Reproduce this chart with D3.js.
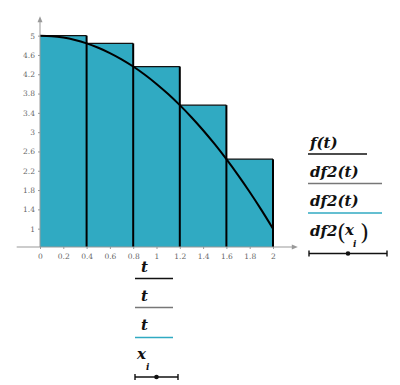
<!DOCTYPE html>
<html>
<head>
<meta charset="utf-8">
<script src="https://cdn.jsdelivr.net/npm/d3@7"></script>
<style>
  body { margin: 0; background: #fff; }
  svg { display: block; }
  .tick text { font-family: "DejaVu Serif", serif; font-size: 7.5px; fill: #666; }
  .leg { font-family: "DejaVu Serif", serif; font-style: italic; font-weight: bold; font-size: 15px; fill: #111; }
</style>
</head>
<body>
<svg id="chart" width="400" height="385"></svg>
<script>
// curve f(t)
const curveT = [0, 0.1, 0.2, 0.3, 0.4, 0.5, 0.6, 0.7, 0.8, 0.9, 1, 1.1, 1.2, 1.3, 1.4, 1.5, 1.6, 1.7, 1.8, 1.9, 2];
const curveF = [5, 4.99, 4.96, 4.91, 4.84, 4.75, 4.64, 4.51, 4.36, 4.19, 4, 3.79, 3.56, 3.31, 3.04, 2.75, 2.44, 2.11, 1.76, 1.39, 1];

// bars (left points x_i and heights)
const barX = [0, 0.4, 0.8, 1.2, 1.6];
const barH = [5, 4.84, 4.36, 3.56, 2.44];
const barW = 0.4;

const xTicks = [0, 0.2, 0.4, 0.6, 0.8, 1, 1.2, 1.4, 1.6, 1.8, 2];
const yTicks = [1, 1.4, 1.8, 2.2, 2.6, 3, 3.4, 3.8, 4.2, 4.6, 5];

const teal = "#30aac2";
const svg = d3.select("#chart");

const x = d3.scaleLinear().domain([0, 2]).range([40, 273]);
const y = d3.scaleLinear().domain([0.62, 5.37]).range([247, 17.8]);
const y0 = 0.62;

// bars
svg.append("g").selectAll("rect")
    .data(barX)
    .enter()
    .append("rect")
    .attr("x", d => x(d))
    .attr("y", (d, i) => y(barH[i]))
    .attr("width", d => x(d + barW) - x(d))
    .attr("height", (d, i) => y(y0) - y(barH[i]))
    .style("fill", teal);

// top edges
svg.append("g").selectAll("line")
    .data(barX)
    .enter()
    .append("line")
    .attr("x1", d => x(d))
    .attr("x2", d => x(d + barW))
    .attr("y1", (d, i) => y(barH[i]))
    .attr("y2", (d, i) => y(barH[i]))
    .style("stroke", "#111")
    .style("stroke-width", 1.2);

// vertical separators
svg.append("g").selectAll("line")
    .data(barX)
    .enter()
    .append("line")
    .attr("x1", d => x(d + barW))
    .attr("x2", d => x(d + barW))
    .attr("y1", y(y0))
    .attr("y2", (d, i) => y(barH[i]))
    .style("stroke", "#000")
    .style("stroke-width", 2);

// curve
const line = d3.line()
    .x((d, i) => x(curveT[i]))
    .y(d => y(d))
    .curve(d3.curveMonotoneX);
svg.append("path")
    .datum(curveF)
    .attr("d", line)
    .style("fill", "none")
    .style("stroke", "#000")
    .style("stroke-width", 2);

// axes
const axisColor = "#999";
svg.append("line")
    .attr("x1", x(-0.2)).attr("x2", x(2.17))
    .attr("y1", y(y0)).attr("y2", y(y0))
    .style("stroke", axisColor).style("stroke-width", 1);
svg.append("path")
    .attr("d", `M${x(2.17) + 5},${y(y0)} l-6,-2.5 l0,5 z`)
    .style("fill", axisColor);
svg.append("line")
    .attr("x1", x(0)).attr("x2", x(0))
    .attr("y1", y(y0)).attr("y2", y(5.3))
    .style("stroke", axisColor).style("stroke-width", 1);
svg.append("path")
    .attr("d", `M${x(0)},${y(5.3) - 5} l-2.5,6 l5,0 z`)
    .style("fill", axisColor);

const xAxis = svg.append("g")
    .attr("transform", `translate(0,${y(y0)})`)
    .call(d3.axisBottom(x).tickValues(xTicks).tickSize(2).tickPadding(5).tickFormat(d3.format("")));
xAxis.select(".domain").remove();
xAxis.selectAll(".tick line").style("stroke", axisColor);

const yAxis = svg.append("g")
    .attr("transform", `translate(${x(0)},0)`)
    .call(d3.axisLeft(y).tickValues(yTicks).tickSize(2).tickPadding(3).tickFormat(d3.format("")));
yAxis.select(".domain").remove();
yAxis.selectAll(".tick line").style("stroke", axisColor);

// legends
function label(g, lx, ly, s, size) {
    const t = g.append("text").attr("class", "leg").attr("x", lx).attr("y", ly).text(s);
    if (size) t.style("font-size", size);
    return t;
}
function paren(g, lx, ly, s) {
    label(g, lx, ly, s, "23px").style("font-weight", "normal").style("font-style", "normal");
}

const legR = svg.append("g");
const legRows = [
    {ty: 148, ly: 154, x2: 367, color: "#111"},
    {ty: 177, ly: 183.5, x2: 382, color: "#777"},
    {ty: 206, ly: 213, x2: 382, color: teal}
];
const legLabels = ["f(t)", "df2(t)", "df2(t)"];
legRows.forEach((r, i) => {
    label(legR, 310, r.ty, legLabels[i]);
    legR.append("line")
        .attr("x1", 308).attr("x2", r.x2)
        .attr("y1", r.ly).attr("y2", r.ly)
        .style("stroke", r.color).style("stroke-width", 1.6);
});
// df2(x_i)
label(legR, 310, 236, "df2");
paren(legR, 337, 240, "(");
label(legR, 345, 235, "x");
label(legR, 353, 247, "i", "9px");
paren(legR, 360, 240, ")");

function dotLine(g, x1, x2, ly) {
    g.append("line").attr("x1", x1).attr("x2", x2).attr("y1", ly).attr("y2", ly)
        .style("stroke", "#111").style("stroke-width", 1.6);
    [x1, x2].forEach(v => g.append("line").attr("x1", v).attr("x2", v)
        .attr("y1", ly - 3).attr("y2", ly + 3).style("stroke", "#111").style("stroke-width", 1.4));
    g.append("circle").attr("cx", (x1 + x2) / 2).attr("cy", ly).attr("r", 2.3).style("fill", "#111");
}
dotLine(legR, 309, 387, 253.5);

// bottom legend
const legB = svg.append("g");
const legBRows = [
    {ty: 272, ly: 278.5, color: "#111"},
    {ty: 301, ly: 307.5, color: "#777"},
    {ty: 330, ly: 337.5, color: teal}
];
legBRows.forEach(r => {
    label(legB, 141, r.ty, "t");
    legB.append("line")
        .attr("x1", 135).attr("x2", 173)
        .attr("y1", r.ly).attr("y2", r.ly)
        .style("stroke", r.color).style("stroke-width", 1.6);
});
label(legB, 137, 359, "x");
label(legB, 146, 370, "i", "9px");
dotLine(legB, 135, 178, 377);
</script>
</body>
</html>
